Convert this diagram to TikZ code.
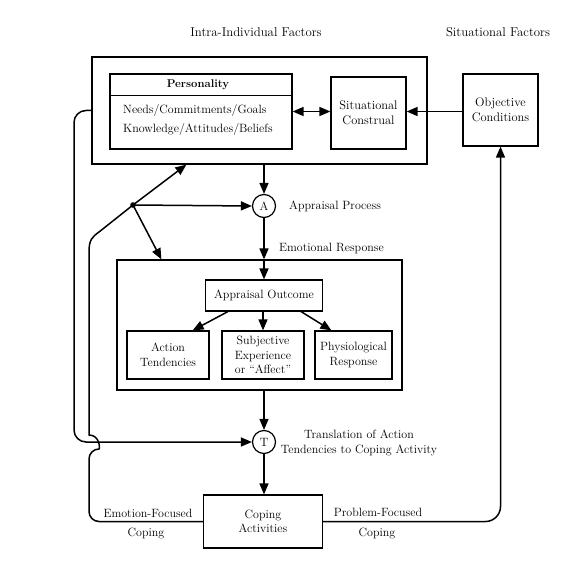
\documentclass[tikz,border=0pt]{standalone}
\usetikzlibrary{arrows.meta,calc}
\begin{document}
\begin{tikzpicture}[x=1pt,y=-1pt,
  every node/.style={font=\fontsize{12}{14.5}\selectfont},
  box/.style={draw,line width=1.2pt,inner sep=0pt,align=center},
  circ/.style={circle,draw,line width=1.2pt,minimum size=23pt,inner sep=0pt},
  tip/.tip={Triangle[length=11pt,width=9pt]},
  arr/.style={line width=1.5pt,-tip},
  ln/.style={line width=1.2pt},
  lbl/.style={inner sep=0pt}]
\useasboundingbox (0,0) rectangle (575,564);
% headers
\node[lbl,font=\fontsize{12.8}{15}\selectfont] (h1) at (256,32) {Intra-Individual Factors};
\node[lbl,font=\fontsize{12.8}{15}\selectfont] (h2) at (498,32) {Situational Factors};
% top boxes
\node[box,minimum width=335pt,minimum height=107pt] (outer) at (259.5,110.5) {};
\node[box,minimum width=182pt,minimum height=75pt] (pers) at (201,111.5) {};
\draw[ln] ($(pers.north west)+(0,22)$) coordinate (sepL) -- ($(pers.north east)+(0,22)$) coordinate (sepR);
\node[lbl,font=\fontsize{11.3}{14}\selectfont\bfseries] (ptitle) at (198,85) {Personality};
\node[lbl,anchor=west] (needs) at (123,111) {Needs/Commitments/Goals};
\node[lbl,anchor=west] (know) at (123,130) {Knowledge/Attitudes/Beliefs};
\node[box,minimum width=75pt,minimum height=72pt,font=\fontsize{12.4}{15}\selectfont] (sit) at (368.5,113) {Situational\\Construal};
\node[box,minimum width=75pt,minimum height=72pt,font=\fontsize{12.4}{15}\selectfont] (obj) at (500.5,110) {Objective\\Conditions};
% appraisal
\node[circ] (A) at (264,206) {A};
\node[lbl,anchor=west] (ap) at (289,206) {Appraisal Process};
% emotional response
\node[box,minimum width=285pt,minimum height=130pt] (emo) at (259.5,325) {};
\node[lbl,anchor=west] (er) at (279,248) {Emotional Response};
\node[box,minimum width=117pt,minimum height=31pt] (outc) at (264,295.5) {Appraisal Outcome};
\node[box,minimum width=82pt,minimum height=48pt] (act) at (168,355) {Action\\Tendencies};
\node[box,minimum width=82pt,minimum height=48pt] (subj) at (263,355) {Subjective\\Experience\\or ``Affect''};
\node[box,minimum width=77pt,minimum height=48pt] (phys) at (353.5,355) {Physiological\\Response};
% translation
\node[circ] (T) at (264,442) {T};
\node[lbl,align=center] (tr) at (359,443) {Translation of Action\\Tendencies to Coping Activity};
\node[box,minimum width=119pt,minimum height=53pt] (cop) at (263,521.5) {Coping\\Activities};
\node[lbl] (ef) at (148,513) {Emotion-Focused};
\node[lbl] (efc) at (146,534) {Coping};
\node[lbl] (pf) at (378,512) {Problem-Focused};
\node[lbl] (pfc) at (377,534) {Coping};
% connectors
\draw[arr] (A|-outer.south) -- (A.north);
\draw[arr] (A.south) -- (A|-emo.north);
\draw[arr] (A|-emo.north) -- (outc.north);
\draw[arr] ($(outc.south west)+(23,0)$) -- ($(act.north east)+(-17,0)$);
\draw[arr] (subj.north|-outc.south) -- (subj.north);
\draw[arr] ($(outc.south east)+(-22,0)$) -- ($(phys.north west)+(17,0)$);
\draw[arr] (T|-emo.south) -- (T.north);
\draw[arr] (T.south) -- (T|-cop.north);
\draw[line width=1.5pt,tip-tip] (pers.east) -- (pers.east-|sit.west);
\draw[arr] (obj.west|-pers.east) -- (sit.east|-pers.east);
\draw[arr,rounded corners=15pt] (cop.east) -| (obj.south);
\coordinate (lb1) at (74,110.5);
\coordinate (lb2) at (74,442);
\draw[arr,rounded corners=12pt] (outer.west) -- (lb1) -- (lb2) -- (T.west);
\coordinate (dot) at (133,205);
\coordinate (c1) at (89,521.5);
\coordinate (h1b) at (89,449);
\coordinate (h1t) at (89,435);
\coordinate (v1) at (89,252);
\coordinate (d1) at (99,232);
\coordinate (otip) at ($(outer.south west)+(95,0)$);
\draw[arr] (cop.west) [rounded corners=10pt] -- (c1) -- (h1b) [sharp corners]
  .. controls (100,449) and (100,435) .. (h1t) -- (v1)
  .. controls (89,240) and (92,237) .. (d1) -- (dot) -- (otip);
\fill (dot) circle (2.8pt);
\draw[arr] (dot) -- (A.west);
\draw[arr] (dot) -- ($(emo.north west)+(45,0)$);
\end{tikzpicture}
\end{document}
